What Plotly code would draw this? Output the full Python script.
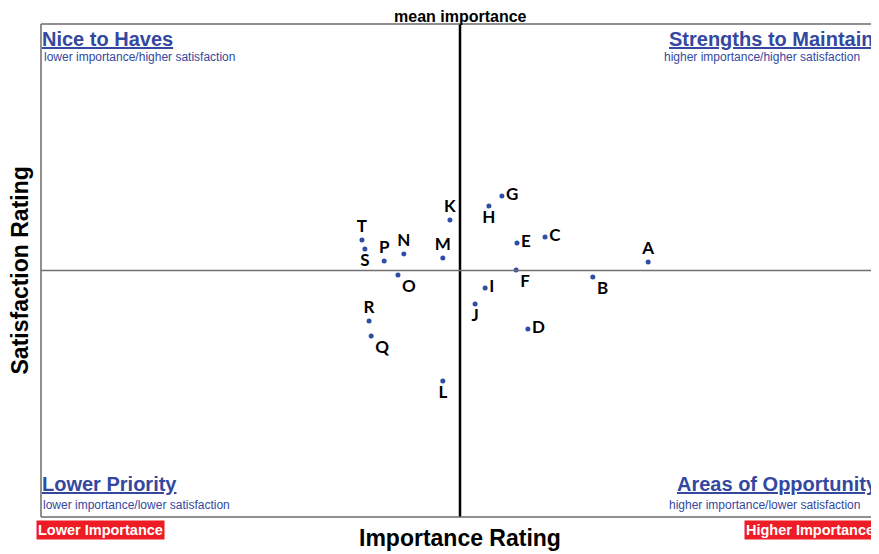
import plotly.graph_objects as go

labels = ["A", "B", "C", "D", "E", "F", "G", "H", "I", "J",
          "K", "L", "M", "N", "O", "P", "Q", "R", "S", "T"]
importance = [0.449, 0.317, 0.203, 0.162, 0.136, 0.134, 0.100, 0.069, 0.060, 0.036,
              -0.024, -0.041, -0.041, -0.134, -0.148, -0.181, -0.212, -0.217, -0.227, -0.234]
satisfaction = [0.034, -0.026, 0.136, -0.237, 0.112, 0.002, 0.302, 0.262, -0.071, -0.136,
                0.205, -0.448, 0.051, 0.067, -0.018, 0.039, -0.266, -0.205, 0.087, 0.124]
label_pos = ["top center", "bottom right", "middle right", "middle right", "middle right",
             "bottom right", "middle right", "bottom center", "middle right", "bottom center",
             "top center", "bottom center", "top center", "top center", "bottom right",
             "top center", "bottom right", "top center", "bottom center", "top center"]

BLUE = "#3448a0"
BORDER = "#6b6b6b"
FONT = "Liberation Sans"

fig = go.Figure()
fig.add_trace(go.Scatter(
    x=importance, y=satisfaction, mode="markers+text", text=labels,
    textposition=label_pos,
    marker=dict(color="#2e4ea6", size=5),
    textfont=dict(family="Lato", size=17, color="black", weight="bold"),
    cliponaxis=False, showlegend=False, hoverinfo="skip"))

# mean lines
fig.add_shape(type="line", x0=0, x1=0, y0=-1, y1=1, xref="x", yref="y",
              line=dict(color="black", width=2.5))
fig.add_shape(type="line", x0=-1, x1=1, y0=0, y1=0, xref="x", yref="y",
              line=dict(color="#707070", width=1.5))
# frame (top, left, bottom)
for x0, y0, x1, y1 in [(0, 1, 1, 1), (0, 0, 0, 1), (0, 0, 1, 0)]:
    fig.add_shape(type="line", x0=x0, x1=x1, y0=y0, y1=y1, xref="paper", yref="paper",
                  line=dict(color=BORDER, width=1.5))

title_font = dict(family=FONT, size=20, color=BLUE, weight="bold")
sub_font = dict(family=FONT, size=12, color=BLUE)
red_font = dict(family=FONT, size=14.5, color="white", weight="bold")

ann = [
    dict(x=0, y=1, xref="paper", yref="paper", xanchor="left", yanchor="top", xshift=-1, yshift=-2,
         text="<u>Nice to Haves</u>", showarrow=False, font=title_font),
    dict(x=0, y=1, xref="paper", yref="paper", xanchor="left", yanchor="top", xshift=1, yshift=-24,
         text="lower importance/higher satisfaction", showarrow=False, font=sub_font),
    dict(x=1, y=1, xref="paper", yref="paper", xanchor="right", yanchor="top", xshift=-4, yshift=-2,
         text="<u>Strengths to Maintain</u>", showarrow=False, font=title_font),
    dict(x=1, y=1, xref="paper", yref="paper", xanchor="right", yanchor="top", xshift=-17, yshift=-24,
         text="higher importance/higher satisfaction", showarrow=False, font=sub_font),
    dict(x=0, y=0, xref="paper", yref="paper", xanchor="left", yanchor="bottom", xshift=-1, yshift=20,
         text="<u>Lower Priority</u>", showarrow=False, font=title_font),
    dict(x=0, y=0, xref="paper", yref="paper", xanchor="left", yanchor="bottom", xshift=0, yshift=3,
         text="lower importance/lower satisfaction", showarrow=False, font=sub_font),
    dict(x=1, y=0, xref="paper", yref="paper", xanchor="right", yanchor="bottom", xshift=1, yshift=20,
         text="<u>Areas of Opportunity</u>", showarrow=False, font=title_font),
    dict(x=1, y=0, xref="paper", yref="paper", xanchor="right", yanchor="bottom", xshift=-17, yshift=3,
         text="higher importance/lower satisfaction", showarrow=False, font=sub_font),
    dict(x=0.5, y=1, xref="paper", yref="paper", xanchor="center", yanchor="bottom", yshift=-2,
         text="mean importance", showarrow=False, borderpad=0,
         font=dict(family=FONT, size=16, color="black", weight="bold")),
    dict(x=0, y=0, xref="paper", yref="paper", xanchor="left", yanchor="top", xshift=-5, yshift=-3,
         text="Lower Importance", showarrow=False, bgcolor="#ee1c24", borderpad=1, font=red_font),
    dict(x=1, y=0, xref="paper", yref="paper", xanchor="right", yanchor="top", xshift=-3, yshift=-3,
         text="Higher Importance", showarrow=False, bgcolor="#ee1c24", borderpad=1, font=red_font),
    dict(x=0.5, y=0, xref="paper", yref="paper", xanchor="center", yanchor="top", yshift=-6,
         text="Importance Rating", showarrow=False,
         font=dict(family=FONT, size=23, color="black", weight="bold")),
    dict(x=0, y=0.5, xref="paper", yref="paper", xanchor="right", yanchor="middle", xshift=-7,
         text="Satisfaction Rating", textangle=-90, showarrow=False,
         font=dict(family=FONT, size=23, color="black", weight="bold")),
]

# page body has an 8px margin, so the figure is sized to fill the rest of the window
fig.update_layout(
    width=871, height=546,
    margin=dict(l=33, r=0, t=16, b=37, autoexpand=False),
    plot_bgcolor="white", paper_bgcolor="white",
    annotations=ann,
    xaxis=dict(range=[-1, 1], showgrid=False, zeroline=False, showticklabels=False, ticks="",
               showline=False, automargin=False),
    yaxis=dict(range=[-1, 1], showgrid=False, zeroline=False, showticklabels=False, ticks="",
               showline=False, automargin=False),
)

fig.write_html("out.html")
